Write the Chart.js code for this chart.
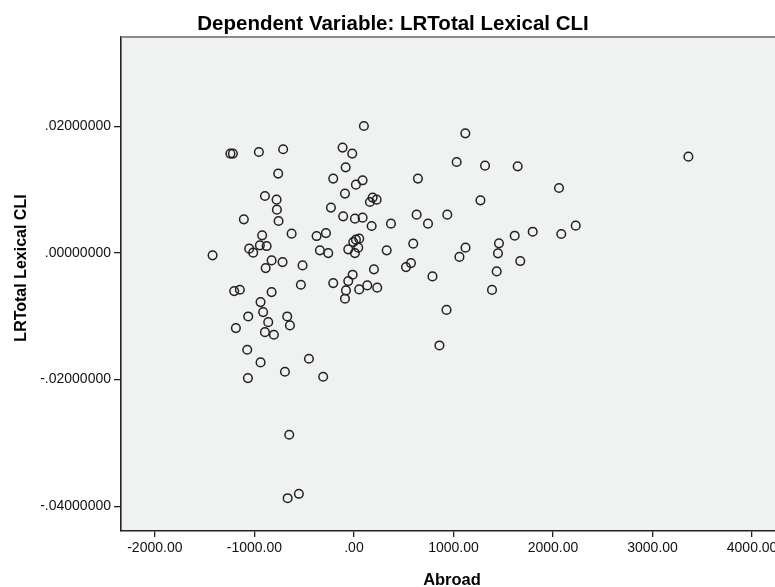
<!DOCTYPE html>
<html>
<head>
<meta charset="utf-8">
<script src="https://cdn.jsdelivr.net/npm/chart.js@4/dist/chart.umd.min.js"></script>
<style>
  html, body { margin: 0; padding: 0; background: #ffffff; }
  #wrap { width: 775px; height: 587px; position: relative; }
</style>
</head>
<body>
<div id="wrap"><canvas id="c" width="775" height="587"></canvas></div>
<script>
// ---- data ----
const abroad = [
  -1420, -1241, -1216, -955, -711, -761, -894, -777, -774, -757,
  -1106, -626, -922, -1052, -1012, -945, -877, -827, -717, -887,
  -516, -533, -1203, -1146, -827, -938, -912, -1062, -670, -861,
  -643, -1186, -894, -804, -1072, -938, -452, -693, -1065, -309,
  -650, -666, -553,
  -375, -281, -342, -258, -208, -114, -17, -83, 100, 20,
  87, -90, 161, 188, 228, -231, -108, 10, 87, 178,
  372, 20, 53, -7, -57, 43, 10, 329, 201, -13,
  -57, -208, 134, 234, 53, -80, -90,
  523, 573, 596, 630, 643, 744, 938, 789, 930, 859,
  1032, 1119, 1317, 1271, 1121, 1060, 1457, 1447, 1434, 1387,
  1645, 2060, 1615, 1796, 2083, 2228, 1671, 3360
];
const lrTotalLexicalCLI = [
  -0.00038, 0.01569, 0.01569, 0.01594, 0.01637, 0.01253, 0.00899, 0.00842, 0.00684, 0.00504,
  0.00531, 0.00305, 0.00278, 0.00068, 0.00005, 0.00120, 0.00109, -0.00117, -0.00144, -0.00239,
  -0.00196, -0.00501, -0.00602, -0.00580, -0.00618, -0.00776, -0.00934, -0.01002, -0.01002, -0.01092,
  -0.01144, -0.01186, -0.01250, -0.01291, -0.01528, -0.01728, -0.01670, -0.01875, -0.01976, -0.01954,
  -0.02870, -0.03872, -0.03803,
  0.00267, 0.00314, 0.00041, -0.00002, 0.01174, 0.01664, 0.01569, 0.01352, 0.02005, 0.01079,
  0.01147, 0.00937, 0.00804, 0.00874, 0.00842, 0.00716, 0.00578, 0.00542, 0.00558, 0.00425,
  0.00463, 0.00210, 0.00226, 0.00172, 0.00057, 0.00084, -0.00002, 0.00041, -0.00259, -0.00343,
  -0.00444, -0.00476, -0.00512, -0.00548, -0.00575, -0.00591, -0.00722,
  -0.00223, -0.00160, 0.00147, 0.00605, 0.01174, 0.00463, 0.00605, -0.00370, -0.00899, -0.01460,
  0.01436, 0.01889, 0.01379, 0.00831, 0.00084, -0.00062, 0.00152, -0.00006, -0.00291, -0.00583,
  0.01368, 0.01025, 0.00273, 0.00336, 0.00299, 0.00431, -0.00128, 0.01521
];
const xTickValues = [-2000, -1000, 0, 1000, 2000, 3000, 4000];
const xTickLabels = ['-2000.00', '-1000.00', '.00', '1000.00', '2000.00', '3000.00', '4000.00'];
const yTickValues = [-0.04, -0.02, 0, 0.02];
const yTickLabels = ['-.04000000', '-.02000000', '.00000000', '.02000000'];
const chartTitle = 'Dependent Variable: LRTotal Lexical CLI';
const xTitle = 'Abroad';
const yTitle = 'LRTotal Lexical CLI';

const points = abroad.map((x, i) => ({ x: x, y: lrTotalLexicalCLI[i] }));

const FONT = '"Liberation Sans", Arial, sans-serif';

const decor = {
  id: 'decor',
  beforeDraw(chart) {
    const { ctx, chartArea: a } = chart;
    ctx.save();
    ctx.fillStyle = '#f0f1f1';
    ctx.fillRect(a.left, a.top, a.right - a.left, a.bottom - a.top);
    ctx.restore();
  },
  afterDraw(chart) {
    const { ctx, chartArea: a } = chart;
    ctx.save();
    // top frame line (grey)
    ctx.strokeStyle = '#8c8c8c';
    ctx.lineWidth = 2;
    ctx.beginPath();
    ctx.moveTo(a.left, a.top);
    ctx.lineTo(a.right, a.top);
    ctx.stroke();
    // title
    ctx.fillStyle = '#000';
    ctx.textAlign = 'center';
    ctx.textBaseline = 'alphabetic';
    ctx.font = 'bold 20.5px ' + FONT;
    ctx.fillText(chartTitle, 393, 30);
    // x title
    ctx.font = 'bold 16.5px ' + FONT;
    ctx.fillText(xTitle, 452, 585);
    // y title
    ctx.translate(26, 268);
    ctx.rotate(-Math.PI / 2);
    ctx.font = 'bold 16px ' + FONT;
    ctx.fillText(yTitle, 0, 0);
    ctx.restore();
  }
};

new Chart(document.getElementById('c'), {
  type: 'scatter',
  data: {
    datasets: [{
      data: points,
      pointStyle: 'circle',
      pointRadius: 4.3,
      pointHoverRadius: 4.3,
      borderWidth: 1.5,
      borderColor: '#222222',
      backgroundColor: 'rgba(0,0,0,0)'
    }]
  },
  options: {
    responsive: false,
    animation: false,
    devicePixelRatio: 1,
    layout: { autoPadding: false, padding: { top: 37, right: 0, left: 0, bottom: 0 } },
    plugins: { legend: { display: false }, title: { display: false }, tooltip: { enabled: false } },
    scales: {
      x: {
        type: 'linear',
        min: -2340,
        max: 4230,
        afterBuildTicks(scale) { scale.ticks = xTickValues.map(v => ({ value: v })); },
        afterFit(scale) { scale.height = 56; scale.paddingLeft = 0; scale.paddingRight = 0; },
        ticks: {
          autoSkip: false,
          maxRotation: 0,
          padding: 3,
          color: '#111',
          font: { family: FONT, size: 14 },
          callback(value) {
            const i = xTickValues.indexOf(value);
            return i >= 0 ? xTickLabels[i] : '';
          }
        },
        grid: { drawOnChartArea: false, drawTicks: true, tickLength: 6, color: '#222', lineWidth: 1.3 },
        border: { display: true, color: '#222', width: 1.6 }
      },
      y: {
        type: 'linear',
        min: -0.0439,
        max: 0.0341,
        afterBuildTicks(scale) { scale.ticks = yTickValues.map(v => ({ value: v })); },
        afterFit(scale) { scale.width = 121; scale.paddingTop = 0; scale.paddingBottom = 0; },
        ticks: {
          autoSkip: false,
          padding: 3,
          color: '#111',
          font: { family: FONT, size: 14 },
          callback(value) {
            const i = yTickValues.findIndex(v => Math.abs(v - value) < 1e-9);
            return i >= 0 ? yTickLabels[i] : '';
          }
        },
        grid: { drawOnChartArea: false, drawTicks: true, tickLength: 7, color: '#222', lineWidth: 1.3 },
        border: { display: true, color: '#222', width: 1.6 }
      }
    }
  },
  plugins: [decor]
});
</script>
</body>
</html>
